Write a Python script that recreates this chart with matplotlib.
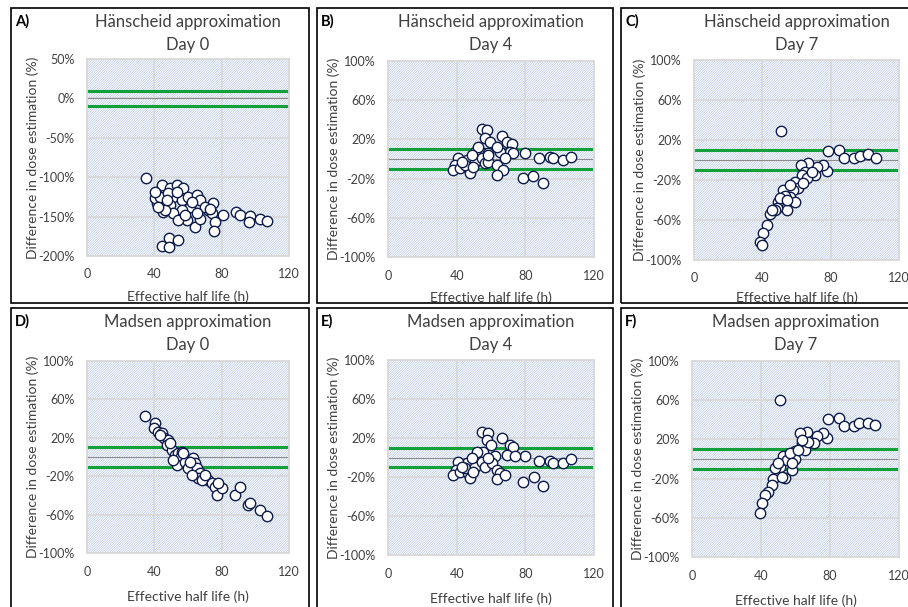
import matplotlib.pyplot as plt
from matplotlib.patches import Rectangle
from matplotlib.ticker import PercentFormatter

plt.rcParams['font.family'] = ['Lato', 'DejaVu Sans']
plt.rcParams['axes.unicode_minus'] = False
plt.rcParams['hatch.linewidth'] = 0.45

# ---- data (effective half life in h, difference in %) ----
xA = [34.9, 42.4, 45.3, 44.4, 49.3, 53.3, 57.2, 51.3, 56.2, 60.2, 65.2, 67.1, 61.2,
      56.2, 45.3, 49.3, 41.4, 40.4, 51.3, 59.2, 64.2, 67.1, 72.1, 75.1, 54.3, 46.3,
      43.4, 48.3, 53.3, 62.2, 70.1, 74.1, 58.2, 65.2, 40.4, 42.4, 47.3, 88.5, 90.9,
      96.8, 96.2, 102.8, 106.7, 80.6, 76.0, 75.6, 73.1, 44.4, 48.9, 48.9, 53.9]
yA = [-100.6, -119.2, -112, -110, -114, -110, -114, -124.7, -129, -124.7, -122.6,
      -129, -137.4, -141.7, -143.8, -135.3, -133.2, -126.8, -145.9, -154.4, -162.8,
      -153.5, -141.7, -133.2, -154.4, -141.7, -124.7, -120.5, -118.4, -131.1, -137.4,
      -145.9, -148, -145.9, -118.4, -137.4, -129, -144.6, -148, -149.3, -157.3,
      -153.1, -155.6, -148, -157.3, -167.9, -140.8, -187, -177.6, -188.2, -179.7]

xB = [54.6, 57.5, 56.5, 59.4, 66.2, 69.1, 72.0, 71.1, 65.2, 79.8, 73.0, 55.5, 58.4,
      63.3, 50.7, 45.8, 41.0, 39.0, 38.1, 41.9, 46.8, 47.8, 44.9, 50.7, 54.6, 56.5,
      58.4, 63.3, 67.2, 63.3, 68.2, 58.4, 52.6, 48.7, 42.9, 49.7, 78.8, 84.7, 90.5,
      88.0, 94.4, 96.3, 102.1, 106.6]
yB = [30.6, 29.6, 21.1, 17.7, 23.8, 17.7, 15, 7.5, 7.5, 5.8, 5.8, 5.8, 5.8, 12.6,
      7.5, -1.0, 0.7, -6.1, -11.2, -9.5, -9.5, -14.6, -6.1, -2.7, 0.7, -4.4, -2.7,
      -6.1, -11.2, -16.3, 0.7, 4.1, 12.6, 4.1, -2.7, -7.8, -19.7, -17, -24.8, 0.7,
      2.4, 0.7, -1.0, 2.4]

xC = [50.9, 78.6, 84.9, 88.0, 93.9, 97.2, 102.1, 106.5, 77.7, 75.7, 71.8, 66.9,
      62.6, 65.0, 70.8, 63.0, 59.1, 61.1, 58.1, 52.3, 51.3, 56.2, 59.1, 54.2, 49.4,
      48.4, 47.4, 44.5, 45.5, 42.5, 40.6, 38.6, 40.0, 53.3, 50.3, 66.0, 68.9, 64.0,
      56.2, 54.2]
yC = [29.3, 9, 10, 1.7, 2.3, 4.3, 5.7, 2.3, -11, -5, -6.7, -3.3, -5, -11.7, -15,
      -15, -21.7, -28.3, -30, -30, -38.3, -37.3, -41.7, -50, -41.7, -48.3, -50, -54,
      -50, -65, -72.7, -81.7, -85, -36, -38.3, -18.3, -11.7, -22.7, -25, -40]

xD = [34.5, 40.4, 40.0, 42.4, 44.4, 45.9, 48.3, 47.3, 50.3, 52.3, 54.3, 56.2, 55.3,
      53.3, 58.2, 60.2, 63.2, 64.2, 65.2, 67.1, 66.2, 72.1, 74.1, 76.0, 77.0, 80.0,
      87.9, 90.9, 95.9, 96.8, 102.8, 107.1, 57.2, 49.3, 43.4, 51.3, 61.2, 68.1, 70.1,
      62.2, 78.0]
yD = [43.1, 35.1, 29.9, 26.4, 24.7, 19.5, 17.7, 12.5, 7.3, 2.1, 3.8, 5.6, -1.4,
      -8.3, -4.8, -11.8, -1.4, -6.6, -11.8, -17, -22.2, -23.9, -27.4, -30.9, -39.6,
      -32.6, -39.6, -30.9, -50, -48.2, -55.2, -61.1, 3.8, 14.3, 23, -3.1, -4.8,
      -23.9, -18.7, -18.7, -27.4]

xE = [54.6, 58.1, 57.5, 59.8, 66.2, 71.1, 73.0, 69.1, 79.8, 73.9, 62.3, 55.5, 55.5,
      50.7, 45.8, 41.0, 39.4, 38.1, 41.9, 46.8, 47.8, 44.9, 50.7, 54.6, 56.5, 60.4,
      63.3, 65.2, 63.3, 68.2, 58.4, 51.7, 48.7, 42.9, 49.7, 78.8, 85.2, 90.5, 88.0,
      94.4, 96.3, 102.1, 106.6]
yE = [26.5, 25.5, 18, 12.9, 19.7, 12.9, 11.1, 2.6, 1.6, 1.6, 1.6, 1.6, 6, 0.9, -5.9,
      -4.2, -12.8, -17.9, -14.5, -16.2, -21.3, -11.1, -9.4, -4.2, -9.4, -6, -12.8,
      -16.2, -22.4, -17.9, -0.8, 6, -0.8, -9.4, -14.5, -24.7, -20.3, -29.2, -3.5,
      -3.2, -5.3, -5.3, -1.8]

xF = [51.2, 78.6, 85.1, 88.0, 94.0, 96.7, 102.1, 106.3, 78.0, 76.1, 72.2, 66.4,
      62.6, 63.6, 70.9, 65.5, 59.7, 59.7, 57.8, 53.0, 51.0, 53.9, 48.1, 47.2, 46.2,
      44.3, 42.4, 40.4, 39.5, 54.9, 56.8, 67.4, 61.6, 50.1, 63.6, 52.0, 57.8]
yF = [60.2, 40.5, 42.2, 34, 34, 37, 37, 34.3, 21.1, 26.2, 23.5, 27.9, 26.9, 16, 16,
      9.2, 8.5, -0.4, -11.2, 3, -8.5, -19.7, -9.5, -20.8, -26.5, -33.3, -36.7, -44.6,
      -55.4, -1, 5.8, 17.7, 9.2, -4.4, 19.4, -18, -4.4]

labels = ['A)', 'B)', 'C)', 'D)', 'E)', 'F)']
methods = ['Hänscheid approximation'] * 3 + ['Madsen approximation'] * 3
days = ['Day 0', 'Day 4', 'Day 7'] * 2
xs = [xA, xB, xC, xD, xE, xF]
ys = [yA, yB, yC, yD, yE, yF]
yticks_a = [-200, -150, -100, -50, 0, 50]
yticks_other = [-100, -60, -20, 20, 60, 100]
xticks = [0, 40, 80, 120]

W, H = 908, 607
# plot areas in pixels: left, top, right, bottom
areas = [(87, 59, 289, 256), (388, 61, 594, 257), (694, 60, 899, 260),
         (87, 361, 289, 553), (388, 360, 594, 555), (692, 361, 899, 557)]
# panel frames in pixels
frames = [(11, 8, 309, 303), (317, 8, 613, 303), (621, 8, 915, 303),
          (11, 308, 309, 615), (317, 308, 613, 615), (621, 308, 915, 615)]
xlabel_pad = [7, 7, 5, 9, 9, 9]

grid_c = '#D9D9D9'
green = '#12A03A'
navy = '#0D1B4A'
text_c = '#404040'

fig = plt.figure(figsize=(W / 100, H / 100), dpi=100)

for i in range(6):
    l, t, r, b = areas[i]
    fl, ft, fr, fb = frames[i]
    ax = fig.add_axes([l / W, 1 - b / H, (r - l) / W, (b - t) / H])
    ax.set_facecolor('white')
    ax.add_patch(Rectangle((0, 0), 1, 1, transform=ax.transAxes, facecolor='white',
                           edgecolor='#AFC3E6', hatch='/' * 14, lw=0, zorder=0))
    ax.set_xlim(0, 120)
    ax.set_xticks(xticks)
    if i == 0:
        ax.set_ylim(-200, 50)
        ax.set_yticks(yticks_a)
    else:
        ax.set_ylim(-100, 100)
        ax.set_yticks(yticks_other)
    ax.yaxis.set_major_formatter(PercentFormatter(decimals=0))
    ax.grid(True, color=grid_c, lw=1.3, zorder=1)
    for s in ax.spines.values():
        s.set_color(grid_c)
        s.set_linewidth(1.3)
    ax.tick_params(length=0, labelsize=9, colors=text_c, pad=9)
    ax.axhline(0, color='#8C8C8C', lw=0.8, zorder=2)
    ax.axhline(10, color=green, lw=2.2, zorder=2)
    ax.axhline(-10, color=green, lw=2.2, zorder=2)
    ax.scatter(xs[i], ys[i], s=56, facecolor='white', edgecolor=navy, lw=1.0, zorder=3)
    ax.set_xlabel('Effective half life (h)', fontsize=10, color=text_c,
                  labelpad=xlabel_pad[i])
    ax.set_ylabel('Difference in dose estimation (%)', fontsize=10, color=text_c)
    ax.yaxis.set_label_coords(-48 / (r - l), 0.5)

    cx = (l + r) / 2 / W
    dy = ft - 8
    fig.text(cx, 1 - (22 + dy) / H, methods[i], ha='center', va='center',
             fontsize=12, color=text_c)
    fig.text(cx, 1 - (45 + dy) / H, days[i], ha='center', va='center',
             fontsize=12, color=text_c)

    fig.text((fl + 4) / W, 1 - (ft + 13) / H, labels[i], ha='left', va='center',
             fontsize=10.5, fontweight='bold')
    fig.add_artist(Rectangle((fl / W, 1 - fb / H), (fr - fl) / W, (fb - ft) / H,
                             transform=fig.transFigure, fill=False, ec='black', lw=1.2))

fig.savefig('out.png', dpi=100)
